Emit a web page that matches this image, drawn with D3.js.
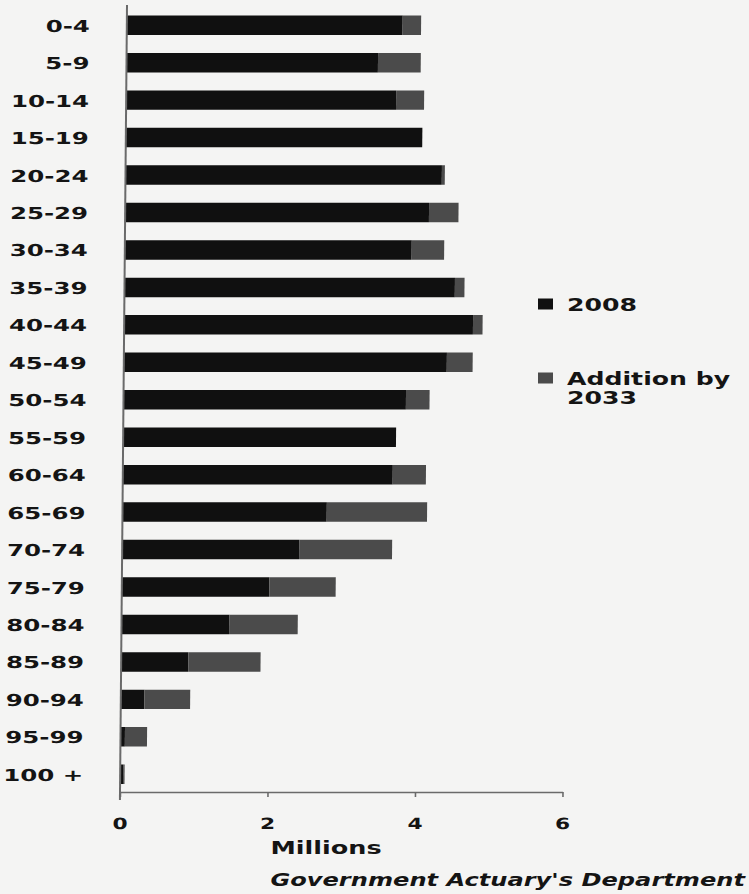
<!DOCTYPE html>
<html>
<head>
<meta charset="utf-8">
<script src="https://cdn.jsdelivr.net/npm/d3@7"></script>
<style>
  html, body { margin: 0; padding: 0; background: #f4f4f3; }
  svg { display: block; }
  text { font-family: "DejaVu Sans", sans-serif; font-weight: bold; fill: #141414; }
</style>
</head>
<body>
<svg id="chart" width="749" height="894"></svg>
<script>
// Population by age group, millions
const ageGroups = ["0-4", "5-9", "10-14", "15-19", "20-24", "25-29", "30-34", "35-39",
  "40-44", "45-49", "50-54", "55-59", "60-64", "65-69", "70-74", "75-79",
  "80-84", "85-89", "90-94", "95-99", "100 +"];
const pop2008 = [3.74, 3.41, 3.66, 4.02, 4.29, 4.12, 3.89, 4.48,
  4.73, 4.38, 3.83, 3.70, 3.66, 2.77, 2.40, 2.00,
  1.46, 0.91, 0.32, 0.06, 0.04];
const addition2033 = [0.25, 0.58, 0.38, 0.00, 0.04, 0.40, 0.44, 0.13,
  0.13, 0.35, 0.32, 0.00, 0.45, 1.36, 1.26, 0.90,
  0.93, 0.98, 0.62, 0.30, 0.02];
const xTicks = [0, 2, 4, 6];
const seriesNames = ["2008", "Addition by 2033"];
const seriesColors = ["#101010", "#4b4b4b"];
const axisTitle = "Millions";
const sourceNote = "Government Actuary's Department";

const svg = d3.select("#chart");
const SX = 1.48; // wide lettering

const x = d3.scaleLinear().domain([0, 6]).range([120, 562.5]);
const y = d3.scaleBand().domain(ageGroups).range([6.5, 793])
  .paddingInner(0.48).paddingOuter(0.24);

// plot area is slightly sheared, as in the printed page
const plot = svg.append("g")
  .attr("transform", "translate(0,792) skewX(-0.51) translate(0,-792)");

const rows = ageGroups.map((g, i) => ({ g, base: pop2008[i], add: addition2033[i] }));
const stack = d3.stack().keys(["base", "add"])(rows);

plot.selectAll("g.series").data(stack).join("g")
  .attr("class", "series")
  .attr("fill", (d, i) => seriesColors[i])
  .selectAll("rect").data(d => d).join("rect")
  .attr("x", d => x(d[0]))
  .attr("width", d => Math.max(0, x(d[1]) - x(d[0])))
  .attr("y", d => y(d.data.g))
  .attr("height", y.bandwidth());

// vertical axis line
plot.append("line")
  .attr("x1", x(0)).attr("x2", x(0))
  .attr("y1", 5).attr("y2", 800)
  .attr("stroke", "#6a6a6a").attr("stroke-width", 2);

// category labels
plot.selectAll("text.cat").data(ageGroups).join("text")
  .attr("class", "cat")
  .attr("text-anchor", "end")
  .attr("font-size", 16.5)
  .attr("transform", d => `translate(83,${y(d) + y.bandwidth() / 2 + 6.5}) scale(${SX},1)`)
  .text(d => d);

// horizontal axis
const xAxis = plot.append("g")
  .attr("transform", "translate(0,792)")
  .call(d3.axisBottom(x).tickValues(xTicks).tickFormat(d3.format("d"))
    .tickSize(5).tickSizeOuter(0).tickPadding(21));
xAxis.select(".domain").attr("stroke", "#6a6a6a").attr("stroke-width", 1.6);
xAxis.selectAll(".tick line").attr("stroke", "#6a6a6a").attr("stroke-width", 1.6);
xAxis.selectAll(".tick text")
  .attr("font-size", 15.5)
  .attr("font-family", "DejaVu Sans, sans-serif")
  .attr("font-weight", "bold")
  .attr("fill", "#141414")
  .attr("transform", `scale(1.4,1)`);

// axis title
svg.append("text")
  .attr("text-anchor", "middle")
  .attr("font-size", 17)
  .attr("transform", `translate(326,854) scale(1.5,1)`)
  .text(axisTitle);

// source note
svg.append("text")
  .attr("text-anchor", "end")
  .attr("font-size", 17)
  .attr("font-style", "italic")
  .attr("transform", `translate(745,886) scale(1.42,1)`)
  .text(sourceNote);

// legend
const legend = svg.append("g");
const legendRows = [
  { y: 304, lines: ["2008"] },
  { y: 378, lines: ["Addition by", "2033"] }
];
legendRows.forEach((r, i) => {
  legend.append("rect")
    .attr("x", 538).attr("y", r.y - 5.5)
    .attr("width", 15).attr("height", 11)
    .attr("fill", seriesColors[i]);
  const t = legend.append("text")
    .attr("font-size", 17)
    .attr("transform", `translate(567,${r.y + 6.5}) scale(${SX},1)`);
  r.lines.forEach((ln, k) => {
    t.append("tspan").attr("x", 0).attr("dy", k === 0 ? 0 : 20).text(ln);
  });
});
</script>
</body>
</html>
